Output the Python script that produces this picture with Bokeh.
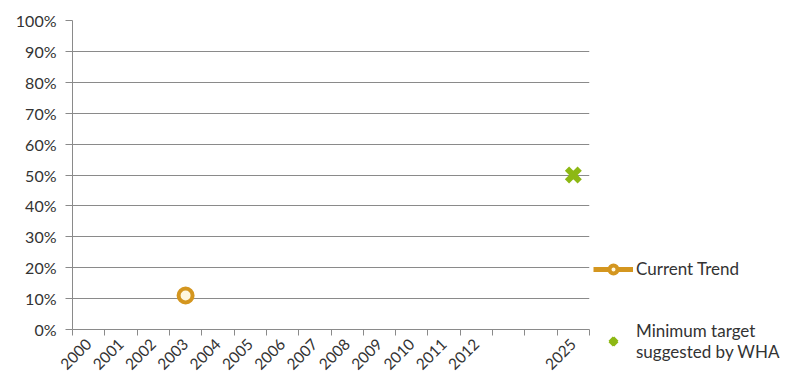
import math
from bokeh.plotting import figure
from bokeh.models import (Range1d, FixedTicker, NumeralTickFormatter, Legend, LegendItem)
from bokeh.embed import file_html
from bokeh.resources import INLINE

# ---- data ----
categories = ["2000", "2001", "2002", "2003", "2004", "2005", "2006", "2007",
              "2008", "2009", "2010", "2011", "2012", "", "", "2025"]
trend_years = ["2003"]
trend_values = [0.11]
target_years = ["2025"]
target_values = [0.50]
y_ticks = [0.0, 0.1, 0.2, 0.3, 0.4, 0.5, 0.6, 0.7, 0.8, 0.9, 1.0]

FONT = "Lato"
TEXT = "#333333"
GRID = "#8a8a8a"
ORANGE = "#D4961F"
GREEN = "#8DB814"

# category centres (category index -> axis position)
def pos(year):
    return categories.index(year) + 0.5

p = figure(frame_width=517, frame_height=309, output_backend="svg", toolbar_location=None,
           x_range=Range1d(0, len(categories)), y_range=Range1d(0, 1),
           min_border_left=72, min_border_top=20, min_border_right=0,
           min_border_bottom=43)
p.outline_line_color = None

# x axis: labels at centres, tick marks at category boundaries
centres = [i + 0.5 for i, c in enumerate(categories) if c]
p.xaxis.ticker = FixedTicker(ticks=centres, minor_ticks=list(range(len(categories) + 1)))
p.xaxis.major_label_overrides = {i + 0.5: c for i, c in enumerate(categories) if c}
p.xaxis.major_tick_out = 0
p.xaxis.major_tick_in = 0
p.xaxis.minor_tick_out = 6
p.xaxis.minor_tick_in = 0
p.xaxis.minor_tick_line_color = GRID
p.xaxis.axis_line_color = GRID
p.xaxis.major_label_orientation = math.pi / 4
p.xaxis.major_label_standoff = 6
p.xaxis.major_label_text_font = FONT
p.xaxis.major_label_text_font_size = "15.5px"
p.xaxis.major_label_text_color = TEXT
p.xgrid.visible = False

# y axis
p.yaxis.ticker = FixedTicker(ticks=y_ticks)
p.yaxis.formatter = NumeralTickFormatter(format="0%")
p.yaxis.major_tick_out = 7
p.yaxis.major_tick_in = 0
p.yaxis.minor_tick_line_color = None
p.yaxis.major_tick_line_color = GRID
p.yaxis.axis_line_color = GRID
p.yaxis.major_label_standoff = 9
p.yaxis.major_label_text_font = FONT
p.yaxis.major_label_text_font_size = "16px"
p.yaxis.major_label_text_color = TEXT
p.ygrid.grid_line_color = GRID
p.ygrid.grid_line_width = 1

# series
tx = [pos(y) for y in trend_years]
gx = [pos(y) for y in target_years]
trend_line = p.line(tx, trend_values, line_color=ORANGE, line_width=5)
trend_pts = p.scatter(tx, trend_values, marker="circle", size=14, line_color=ORANGE,
                      line_width=4, fill_color="#fff8e0")
target_pts = p.scatter(gx, target_values, marker="x", size=18, line_color=GREEN,
                       line_width=6)

legend = Legend(items=[
    LegendItem(label="Current Trend", renderers=[trend_line, trend_pts]),
    LegendItem(label="Minimum target\nsuggested by WHA", renderers=[target_pts]),
], location=(4, -33))
legend.label_text_font = FONT
legend.label_text_font_size = "17px"
legend.label_text_color = TEXT
legend.glyph_width = 40
legend.label_standoff = 3
legend.spacing = 41
legend.padding = 2
legend.margin = 0
legend.border_line_color = None
legend.background_fill_alpha = 0
p.add_layout(legend, "right")

open("out.html", "w").write(file_html(p, INLINE))
